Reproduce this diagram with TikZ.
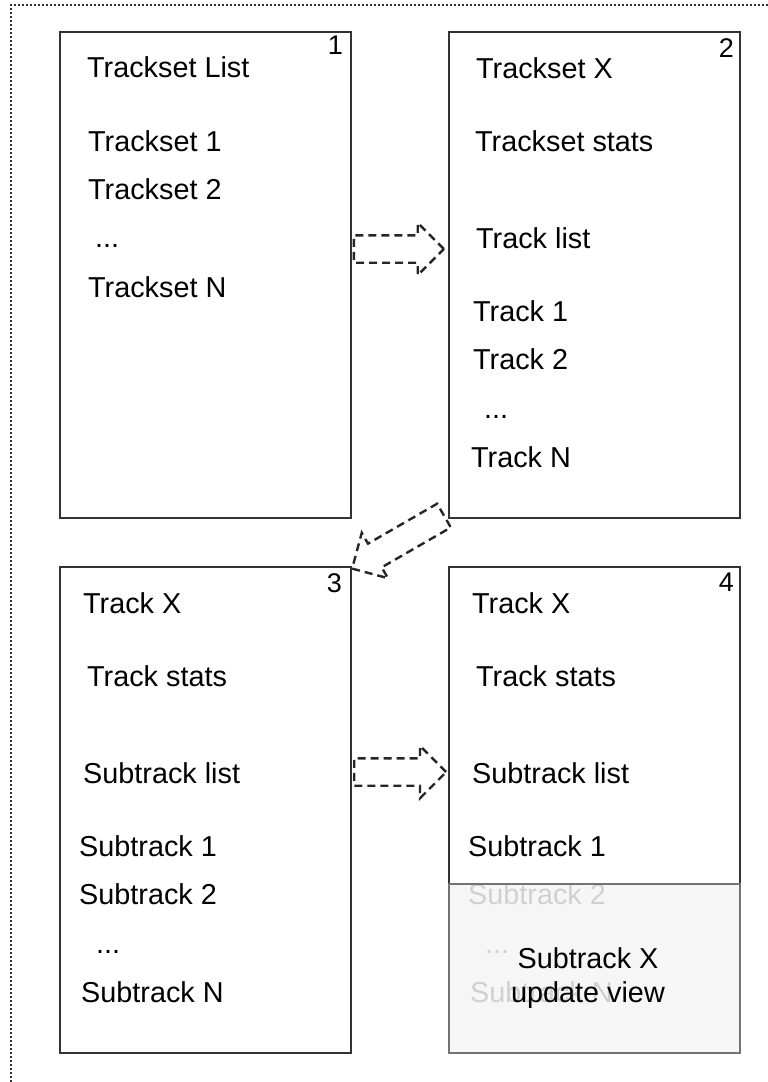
\documentclass[tikz,border=0pt]{standalone}
\usepackage{fontspec}
\setmainfont{Liberation Sans}
\usetikzlibrary{shapes.arrows}

\begin{document}
\begin{tikzpicture}[x=1pt,y=-1pt,
  panel/.style={draw=black!80, line width=2pt, rectangle, inner sep=0pt,
    anchor=north west, minimum width=291pt, minimum height=486.3pt},
  lbl/.style={anchor=base west, inner sep=0pt, font=\fontsize{28.8}{34}\selectfont},
  ctr/.style={anchor=base, inner sep=0pt, font=\fontsize{28.8}{34}\selectfont},
  num/.style={anchor=north east, inner sep=0pt, font=\fontsize{27}{32}\selectfont},
  flow/.style={single arrow, draw=black!85, dash pattern=on 8pt off 5pt,
    line width=2.4pt, inner sep=0pt, inner ysep=12.5pt,
    single arrow head extend=12.5pt, single arrow tip angle=90,
    minimum height=#1, anchor=tail},
  frame/.style={draw=black!80, line width=2pt, dash pattern=on 2pt off 2pt}
]
\useasboundingbox (0,0) rectangle (768,1082);

% outer dotted frame
\draw[frame] (768,5) -- (11,5) -- (11,1082);

% panel 1: trackset list
\node[panel] (p1) at (58.7,30.7) {};
\node[num] (n1) at (343,36) {1};
\node[lbl] (p1a) at (87,77)  {Trackset List};
\node[lbl] (p1b) at (88,151) {Trackset 1};
\node[lbl] (p1c) at (88,199) {Trackset 2};
\node[lbl] (p1d) at (95,247) {...};
\node[lbl] (p1e) at (88,297) {Trackset N};

% panel 2: one trackset
\node[panel] (p2) at (448,30.7) {};
\node[num] (n2) at (734,38) {2};
\node[lbl] (p2a) at (476,78)  {Trackset X};
\node[lbl] (p2b) at (475,151) {Trackset stats};
\node[lbl] (p2c) at (476,248) {Track list};
\node[lbl] (p2d) at (473,321) {Track 1};
\node[lbl] (p2e) at (473,369) {Track 2};
\node[lbl] (p2f) at (484,418) {...};
\node[lbl] (p2g) at (471,467) {Track N};

% panel 3: one track
\node[panel] (p3) at (58.7,566) {};
\node[num] (n3) at (342,573) {3};
\node[lbl] (p3a) at (83,613)  {Track X};
\node[lbl] (p3b) at (87,686)  {Track stats};
\node[lbl] (p3c) at (83,783)  {Subtrack list};
\node[lbl] (p3d) at (79,856)  {Subtrack 1};
\node[lbl] (p3e) at (79,904)  {Subtrack 2};
\node[lbl] (p3f) at (96,953)  {...};
\node[lbl] (p3g) at (81,1002) {Subtrack N};

% panel 4: one track with the subtrack view on top
\node[panel] (p4) at (448,566) {};
\node[num] (n4) at (734,573) {4};
\node[lbl] (p4a) at (472,613)  {Track X};
\node[lbl] (p4b) at (476,686)  {Track stats};
\node[lbl] (p4c) at (472,783)  {Subtrack list};
\node[lbl] (p4d) at (468,856)  {Subtrack 1};
\node[lbl] (p4e) at (468,904)  {Subtrack 2};
\node[lbl] (p4f) at (485,953)  {...};
\node[lbl] (p4g) at (470,1002) {Subtrack N};

\node[panel, draw=black!55, fill=black!4, fill opacity=0.85,
  minimum height=169.8pt] (ov) at (448,882.5) {};
\node[ctr] (ov1) at (588,968)  {Subtrack X};
\node[ctr] (ov2) at (588,1002) {update view};

% navigation arrows
\node[flow=90pt] (a12) at (352.7,249) {};
\node[flow=106pt, rotate=210] (a23) at (445,515) {};
\node[flow=92pt] (a34) at (353,772) {};
\end{tikzpicture}
\end{document}
